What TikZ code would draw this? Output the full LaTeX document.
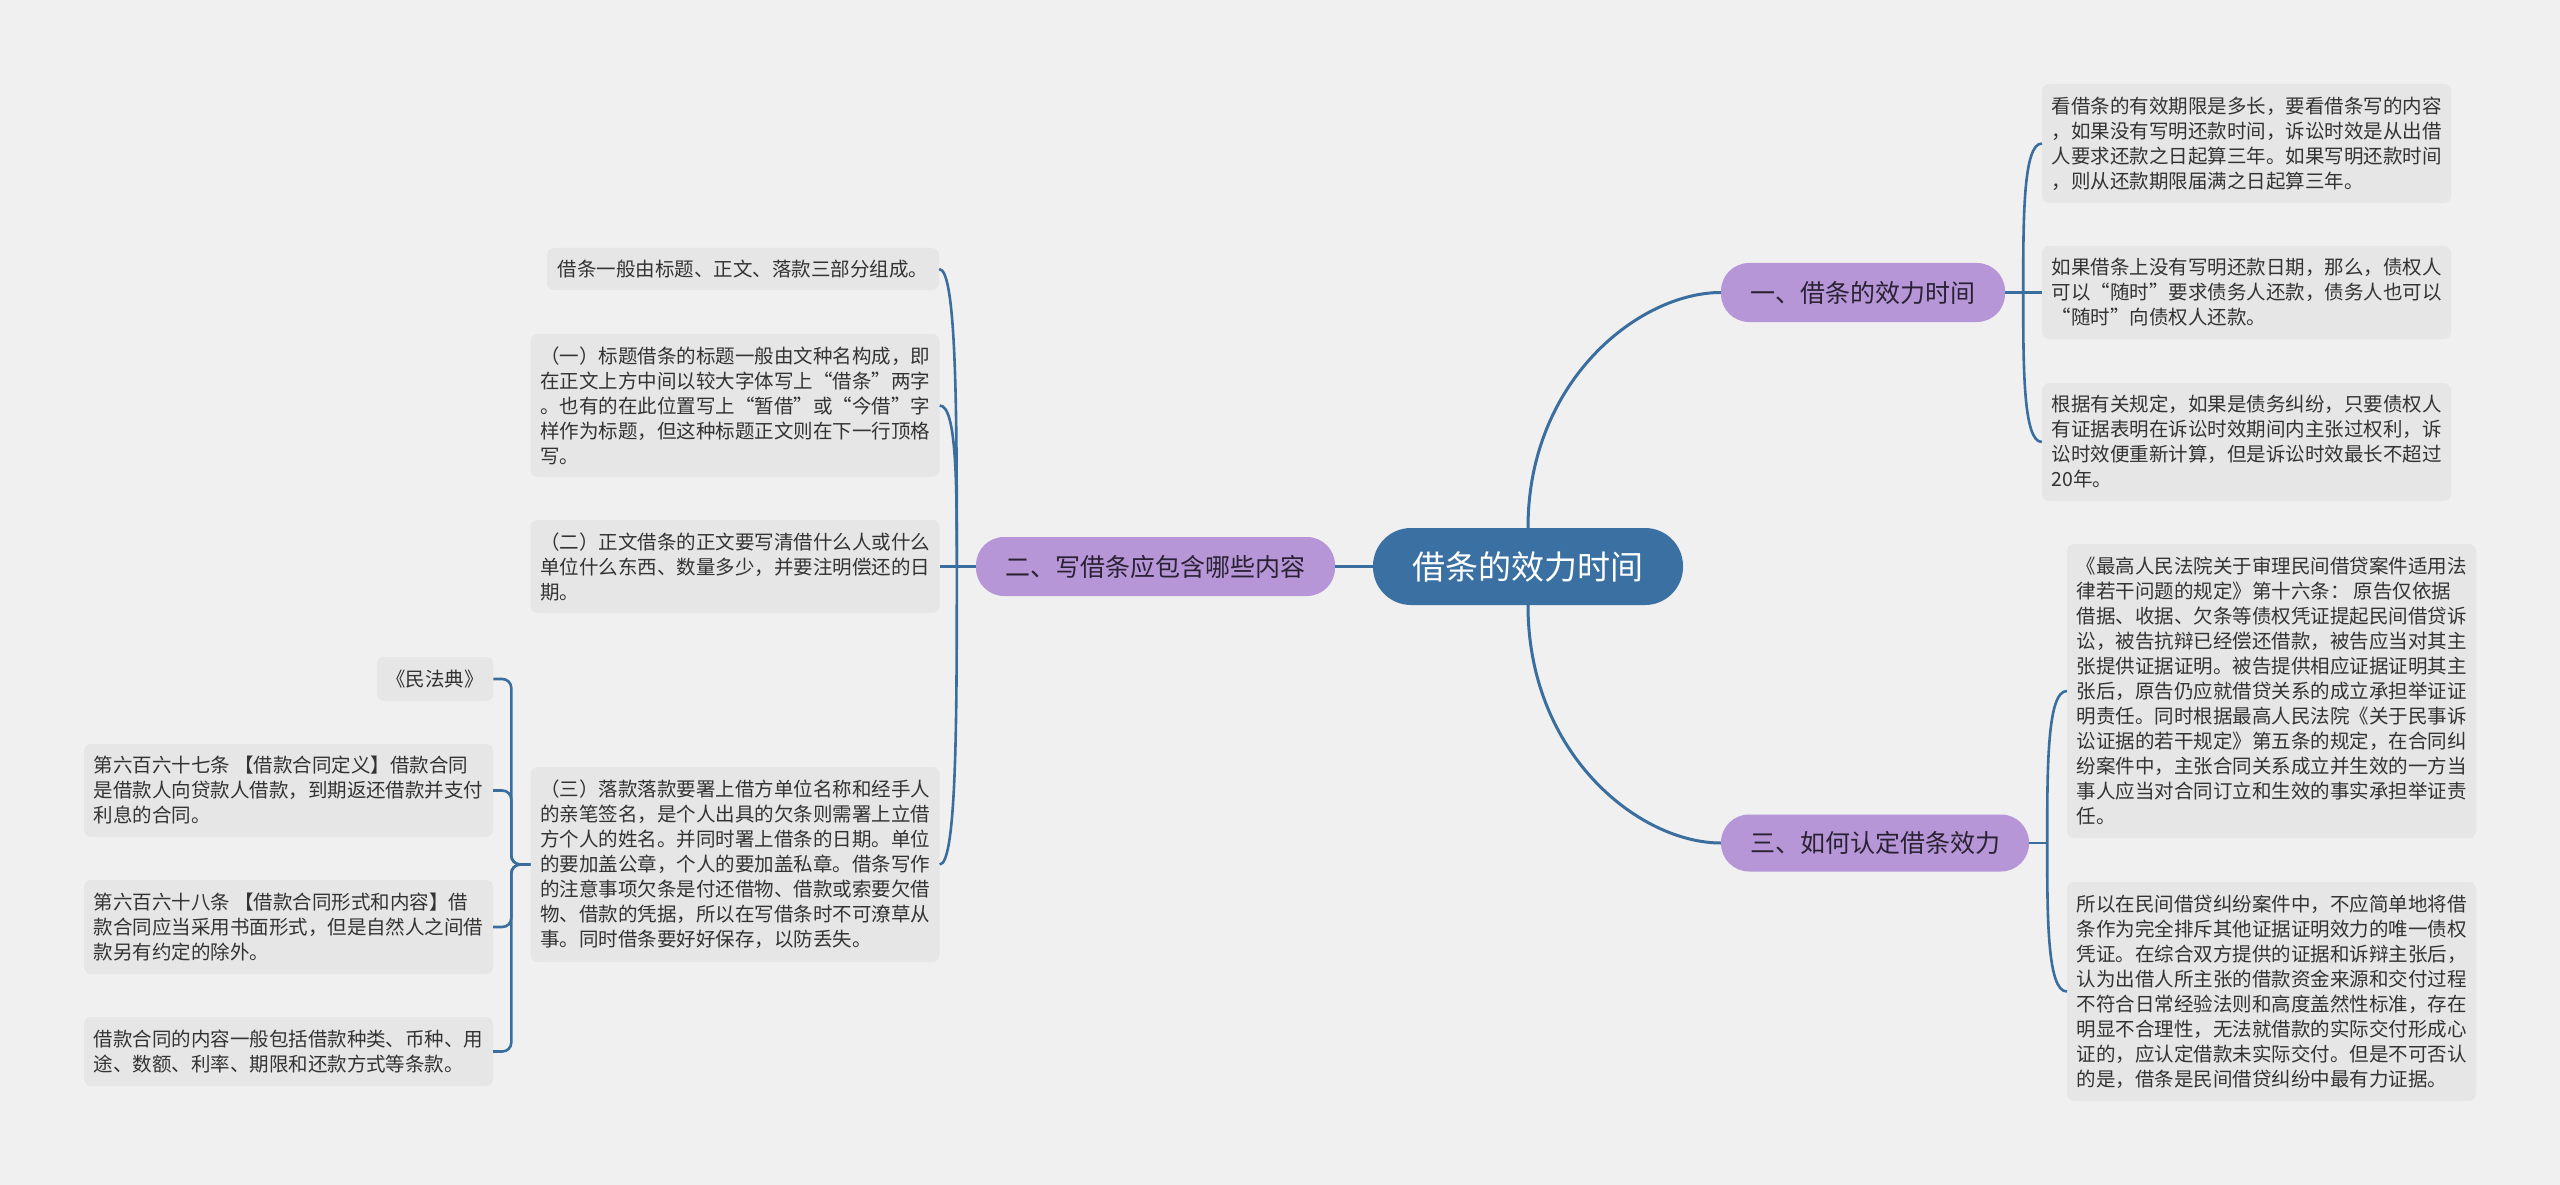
\documentclass[tikz,border=0pt]{standalone}
\usepackage{fontspec}
\newfontfamily\cjk{Noto Sans CJK SC}
\usetikzlibrary{calc}
\definecolor{bgc}{HTML}{F0F0F0}
\definecolor{leafc}{HTML}{E6E6E6}
\definecolor{rootc}{HTML}{3B70A2}
\definecolor{branchc}{HTML}{B796D8}
\definecolor{linec}{HTML}{3A6E9E}
\definecolor{txtc}{HTML}{333333}
\definecolor{btxt}{HTML}{2A2233}
\begin{document}
\begin{tikzpicture}[x=1pt,y=-1pt,
  leaf/.style={fill=leafc, rounded corners=7pt, text=txtc, font=\cjk\fontsize{19.5}{25}\selectfont, align=left, inner xsep=9.5pt, inner ysep=0pt, minimum width=409pt, anchor=center},
  rootnode/.style={fill=rootc, rounded corners=38pt, text=white, font=\cjk\fontsize{33}{40}\selectfont, minimum width=310pt, minimum height=77pt, inner sep=0pt},
  branch/.style={fill=branchc, rounded corners=28pt, text=btxt, font=\cjk\fontsize{25}{30}\selectfont, minimum height=59pt, inner sep=0pt},
  conn/.style={draw=linec, line width=2.6pt},
  mainconn/.style={draw=linec, line width=3pt},
]
\fill[bgc] (0,0) rectangle (2560,1185);
\useasboundingbox (0,0) rectangle (2560,1185);

% main nodes
\node[rootnode] (root) at (1528,566.5) {借条的效力时间};
\node[branch, minimum width=284pt] (b1) at (1863,292.5) {一、借条的效力时间};
\node[branch, minimum width=359pt] (b2) at (1155.5,566.5) {二、写借条应包含哪些内容};
\node[branch, minimum width=308pt, minimum height=57pt] (b3) at (1875,843) {三、如何认定借条效力};

% branch 1 leaves
\node[leaf, minimum height=119pt] (r1a) at (2246.5,143.5) {看借条的有效期限是多长，要看借条写的内容\\，如果没有写明还款时间，诉讼时效是从出借\\人要求还款之日起算三年。如果写明还款时间\\，则从还款期限届满之日起算三年。};
\node[leaf, minimum height=93pt] (r1b) at (2246.5,292.5) {如果借条上没有写明还款日期，那么，债权人\\可以“随时”要求债务人还款，债务人也可以\\“随时”向债权人还款。};
\node[leaf, minimum height=118pt] (r1c) at (2246.5,442) {根据有关规定，如果是债务纠纷，只要债权人\\有证据表明在诉讼时效期间内主张过权利，诉\\讼时效便重新计算，但是诉讼时效最长不超过\\20年。};

% branch 3 leaves
\node[leaf, minimum height=294pt] (r3a) at (2271.5,691) {《最高人民法院关于审理民间借贷案件适用法\\律若干问题的规定》第十六条： 原告仅依据\\借据、收据、欠条等债权凭证提起民间借贷诉\\讼，被告抗辩已经偿还借款，被告应当对其主\\张提供证据证明。被告提供相应证据证明其主\\张后，原告仍应就借贷关系的成立承担举证证\\明责任。同时根据最高人民法院《关于民事诉\\讼证据的若干规定》第五条的规定，在合同纠\\纷案件中，主张合同关系成立并生效的一方当\\事人应当对合同订立和生效的事实承担举证责\\任。};
\node[leaf, minimum height=219pt] (r3b) at (2271.5,991.5) {所以在民间借贷纠纷案件中，不应简单地将借\\条作为完全排斥其他证据证明效力的唯一债权\\凭证。在综合双方提供的证据和诉辩主张后，\\认为出借人所主张的借款资金来源和交付过程\\不符合日常经验法则和高度盖然性标准，存在\\明显不合理性，无法就借款的实际交付形成心\\证的，应认定借款未实际交付。但是不可否认\\的是，借条是民间借贷纠纷中最有力证据。};

% branch 2 leaves
\node[leaf, minimum width=392pt, minimum height=42pt, align=center] (l2a) at (743,269) {借条一般由标题、正文、落款三部分组成。};
\node[leaf, minimum width=408pt, minimum height=143pt] (l2b) at (735,405.5) {（一）标题借条的标题一般由文种名构成，即\\在正文上方中间以较大字体写上“借条”两字\\。也有的在此位置写上“暂借”或“今借”字\\样作为标题，但这种标题正文则在下一行顶格\\写。};
\node[leaf, minimum width=408pt, minimum height=93pt] (l2c) at (735,566.5) {（二）正文借条的正文要写清借什么人或什么\\单位什么东西、数量多少，并要注明偿还的日\\期。};
\node[leaf, minimum width=408pt, minimum height=195pt] (l2d) at (735,864.5) {（三）落款落款要署上借方单位名称和经手人\\的亲笔签名，是个人出具的欠条则需署上立借\\方个人的姓名。并同时署上借条的日期。单位\\的要加盖公章，个人的要加盖私章。借条写作\\的注意事项欠条是付还借物、借款或索要欠借\\物、借款的凭据，所以在写借条时不可潦草从\\事。同时借条要好好保存，以防丢失。};

% far-left leaves
\node[leaf, minimum width=116pt, minimum height=44pt, align=center] (ll1) at (435,679) {《民法典》};
\node[leaf, minimum height=93pt] (ll2) at (288.5,790.5) {第六百六十七条 【借款合同定义】借款合同\\是借款人向贷款人借款，到期返还借款并支付\\利息的合同。};
\node[leaf, minimum height=94pt] (ll3) at (288.5,927) {第六百六十八条 【借款合同形式和内容】借\\款合同应当采用书面形式，但是自然人之间借\\款另有约定的除外。};
\node[leaf, minimum height=69pt] (ll4) at (288.5,1051.5) {借款合同的内容一般包括借款种类、币种、用\\途、数额、利率、期限和还款方式等条款。};

% root connectors
\draw[mainconn] (root.west) -- (b2.east);
\draw[mainconn] (root.north) .. controls ($(root.north)+(0,-148)$) and ($(b1.west)+(-81,0)$) .. (b1.west);
\draw[mainconn] (root.south) .. controls ($(root.south)+(0,150)$) and ($(b3.west)+(-81,0)$) .. (b3.west);

% branch 1 connectors
\coordinate (f1) at ($(b1.east)+(18,0)$);
\draw[conn] (b1.east) -- (f1);
\foreach \c in {r1a,r1b,r1c}
  \draw[conn] (f1) .. controls ($(f1)!0.5!(f1 |- \c.west)$) and (f1 |- \c.west) .. (\c.west);

% branch 3 connectors
\coordinate (f3) at ($(b3.east)+(18,0)$);
\draw[conn] (b3.east) -- (f3);
\foreach \c in {r3a,r3b}
  \draw[conn] (f3) .. controls ($(f3)!0.5!(f3 |- \c.west)$) and (f3 |- \c.west) .. (\c.west);

% branch 2 connectors
\coordinate (f2) at ($(b2.west)+(-19,0)$);
\draw[conn] (b2.west) -- (f2);
\foreach \c in {l2a,l2b,l2c,l2d}
  \draw[conn] (f2) .. controls ($(f2)!0.5!(f2 |- \c.east)$) and (f2 |- \c.east) .. (\c.east);

% bracket from (三) to far-left leaves
\foreach \c in {ll1,ll2,ll3,ll4}
  \draw[conn, rounded corners=9pt] (l2d.west) -- ++(-19,0) |- (\c.east);
\end{tikzpicture}
\end{document}
